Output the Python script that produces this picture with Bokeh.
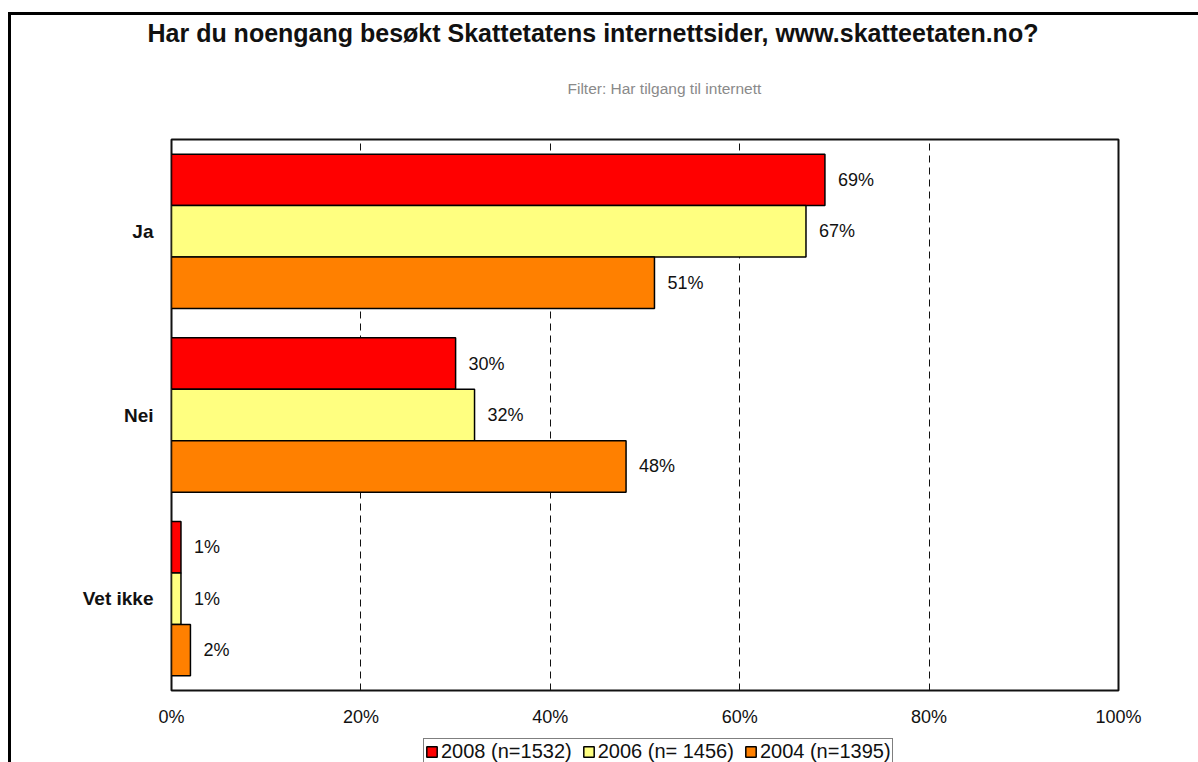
from bokeh.plotting import figure
from bokeh.layouts import column
from bokeh.models import (FactorRange, Range1d, ColumnDataSource, Legend, LegendItem,
                          Title, PrintfTickFormatter, FixedTicker)
from bokeh.transform import dodge
from bokeh.core.properties import value
from bokeh.embed import file_html
from bokeh.resources import INLINE

categories = ["Ja", "Nei", "Vet ikke"]
series_labels = ["2008 (n=1532)", "2006 (n= 1456)", "2004 (n=1395)"]
values_2008 = [69, 30, 1]
values_2006 = [67, 32, 1]
values_2004 = [51, 48, 2]
x_ticks = [0, 20, 40, 60, 80, 100]
title_text = "Har du noengang besøkt Skattetatens internettsider, www.skatteetaten.no?"
subtitle_text = "Filter: Har tilgang til internett"

colors = ["#FF0000", "#FFFF80", "#FF8000"]
offsets = [0.28, 0.0, -0.28]
FONT = "Liberation Sans"

p = figure(width=1187, height=722,
           y_range=FactorRange(factors=categories[::-1], range_padding=0),
           x_range=Range1d(0, 100),
           output_backend="svg", toolbar_location=None,
           min_border_left=160, min_border_right=80,
           min_border_top=122, min_border_bottom=47)

p.background_fill_color = "white"
p.border_fill_color = "white"
p.outline_line_color = "#111111"
p.outline_line_width = 2

series = [values_2008, values_2006, values_2004]
sources = []
for vals, col, off in zip(series, colors, offsets):
    src = ColumnDataSource(dict(cat=categories, val=vals, txt=[f"{v}%" for v in vals]))
    sources.append(src)
    p.hbar(y=dodge("cat", off, range=p.y_range), right="val", left=0, height=0.28,
           source=src, fill_color=col, line_color="black", line_width=1.5)
    p.text(x="val", y=dodge("cat", off, range=p.y_range), text="txt", source=src,
           x_offset=13, text_baseline="middle", text_align="left",
           text_font=value(FONT), text_font_size="18px", text_color="#111111")

# axes
p.xaxis.ticker = FixedTicker(ticks=x_ticks)
p.xaxis.formatter = PrintfTickFormatter(format="%d%%")
p.xaxis.axis_line_color = None
p.xaxis.major_tick_line_color = None
p.xaxis.minor_tick_line_color = None
p.xaxis.major_label_standoff = 10
p.xaxis.major_label_text_font = FONT
p.xaxis.major_label_text_font_size = "18px"
p.xaxis.major_label_text_color = "#111111"

p.yaxis.axis_line_color = None
p.yaxis.major_tick_line_color = None
p.yaxis.minor_tick_line_color = None
p.yaxis.major_label_standoff = 12
p.yaxis.major_label_text_font = FONT
p.yaxis.major_label_text_font_size = "19px"
p.yaxis.major_label_text_font_style = "bold"
p.yaxis.major_label_text_color = "#111111"

p.ygrid.grid_line_color = None
p.xgrid.ticker = FixedTicker(ticks=[20, 40, 60, 80])
p.xgrid.grid_line_color = "#111111"
p.xgrid.grid_line_width = 1
p.xgrid.grid_line_dash = "7 5"

# titles (first added is closest to the frame); blank titles act as spacers
p.add_layout(Title(text=" ", standoff=17, text_font=FONT, text_font_size="20px"), "above")
p.add_layout(Title(text=subtitle_text, align="left", offset=396, standoff=4,
                   text_font=FONT, text_font_size="15.5px", text_font_style="normal",
                   text_color="#8a8a8a"), "above")
p.add_layout(Title(text=" ", standoff=4, text_font=FONT, text_font_size="20px"), "above")
p.add_layout(Title(text=title_text, align="left", offset=-24, standoff=2,
                   text_font=FONT, text_font_size="25px", text_font_style="bold",
                   text_color="#111111"), "above")

# legend strip below the chart; its proxy bars sit underneath the legend box
lp = figure(width=1187, height=25, x_range=Range1d(-60, 130),
            y_range=FactorRange(factors=categories[::-1], range_padding=0),
            output_backend="svg", toolbar_location=None,
            x_axis_location=None, y_axis_location=None,
            min_border_left=0, min_border_right=0, min_border_top=0, min_border_bottom=0)
lp.grid.visible = False
lp.outline_line_color = None
lp.background_fill_color = "white"
lp.border_fill_color = "white"

items = []
for lab, col, src in zip(series_labels, colors, sources):
    r = lp.hbar(y="cat", right="val", left=0, height=0.1, source=src,
                fill_color=col, line_color="black", line_width=1.5)
    items.append(LegendItem(label=lab, renderers=[r]))

legend = Legend(items=items, orientation="horizontal", location=(252, -3),
                label_text_font=FONT, label_text_font_size="20px", label_text_color="#111111",
                glyph_width=13, glyph_height=13, label_standoff=3, spacing=10,
                padding=1, margin=0,
                border_line_color="black", border_line_width=1.5,
                background_fill_color="white", background_fill_alpha=1)
lp.add_layout(legend)

layout = column(p, lp, spacing=0,
                styles={"border-left": "3px solid black", "border-top": "3px solid black",
                        "margin-left": "8px", "margin-top": "12px"})

open("out.html", "w").write(file_html(layout, INLINE))
